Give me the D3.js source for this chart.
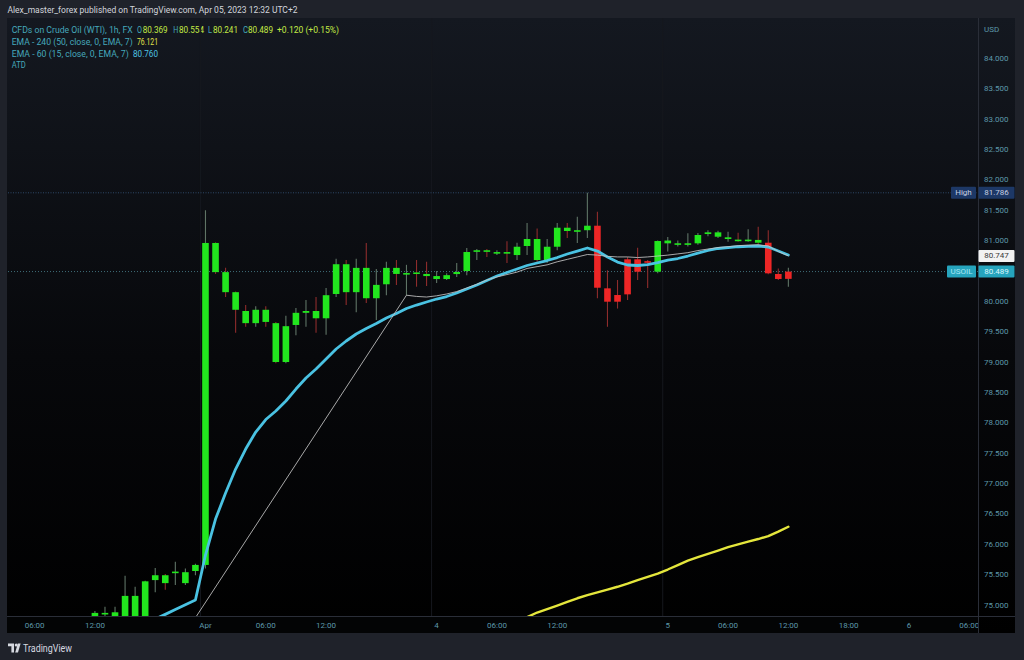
<!DOCTYPE html>
<html><head><meta charset="utf-8">
<script src="https://cdn.jsdelivr.net/npm/d3@7"></script>
<style>html,body{margin:0;padding:0;background:#1f222a;overflow:hidden}svg{display:block}</style>
</head><body><svg id="c" width="1024" height="660"></svg>
<script>
// ---------- DATA ----------
const startIndex = -11; // bar index of the first candle (0 = first bar of Apr 3)
const opens  = [74.70,74.86,74.75,74.78,74.80,74.80,75.41,75.49,75.54,75.36,75.56,
  75.66,80.96,80.48,80.15,79.84,79.64,79.86,79.64,79.00,79.61,79.81,79.84,79.72,80.12,80.61,80.15,80.55,80.05,80.28,80.55,80.45,80.475,80.45,
  80.366,80.366,80.448,80.498,80.83,80.84,80.80,80.81,80.761,80.91,81.025,80.679,80.898,81.211,81.145,81.17,
  81.244,80.213,80.103,80.691,80.691,80.66,
  80.487,80.954,80.95,80.95,80.954,81.107,81.063,81.025,81.015,81.005,81.01,
  80.964,80.449,80.369];
const highs  = [74.90,74.97,74.97,75.48,75.30,75.40,75.61,75.51,75.71,75.60,75.68,
  81.50,80.97,80.55,80.16,79.94,79.92,79.92,79.66,79.76,79.89,80.02,80.07,80.22,80.70,80.68,80.70,80.96,80.53,80.65,80.68,80.60,80.68,80.65,
  80.50,80.46,80.63,80.876,80.86,80.86,80.84,80.99,80.964,81.29,81.20,81.025,81.29,81.29,81.39,81.786,
  81.475,80.51,80.35,80.73,80.88,80.68,
  81.00,81.06,81.00,81.12,81.124,81.17,81.16,81.145,81.13,81.185,81.227,
  81.17,80.54,80.554];
const lows   = [74.60,74.70,74.70,74.70,74.75,74.75,75.21,75.25,75.33,75.33,75.49,
  75.60,80.45,80.07,79.48,79.58,79.58,79.58,78.98,78.98,79.44,79.58,79.48,79.45,80.07,79.94,79.82,79.97,79.69,80.10,80.27,80.10,80.24,80.25,
  80.30,80.35,80.40,80.43,80.68,80.73,80.76,80.63,80.68,80.76,80.65,80.63,80.84,81.04,80.96,81.04,
  80.05,79.58,79.88,80.02,80.35,80.22,
  80.46,80.82,80.90,80.90,80.93,81.07,81.04,80.98,80.98,80.98,80.93,
  80.445,80.35,80.241];
const closes = [74.87,74.87,74.88,75.15,75.15,75.39,75.49,75.36,75.55,75.54,75.66,
  80.96,80.48,80.15,79.86,79.64,79.86,79.66,79.00,79.59,79.81,79.84,79.72,80.10,80.61,80.15,80.55,80.05,80.27,80.55,80.45,80.465,80.465,80.415,
  80.415,80.43,80.482,80.811,80.84,80.83,80.81,80.80,80.898,81.025,80.679,80.898,81.211,81.157,81.17,81.244,
  80.223,79.993,79.993,80.114,80.487,80.645,
  80.992,81.00,80.955,80.955,81.091,81.135,81.135,81.053,81.005,81.015,80.964,
  80.46,80.367,80.489];
// bar colouring from the ATD trend indicator: 1 = green, -1 = red
const trend  = [1,1,1,1,1,1,1,1,1,1,1,
  1,1,1,1,1,1,1,1,1,1,1,1,1,1,1,1,1,1,1,1,1,1,1,
  1,1,1,1,1,1,1,1,1,1,1,1,1,1,1,1,
  -1,-1,-1,-1,-1,-1,
  1,1,1,1,1,1,1,1,1,1,1,
  -1,-1,-1];

const ema60Start = -5;
const ema60 = [74.77,74.846,74.925,75.004,75.082,
  75.822,76.415,76.843,77.238,77.567,77.847,78.053,78.193,78.358,78.555,78.736,78.885,79.049,79.214,79.346,79.461,79.551,79.634,79.724,79.798,79.881,79.938,79.988,
  80.037,80.078,80.136,80.202,80.268,80.342,80.416,80.474,80.531,80.589,80.630,80.671,80.720,80.778,80.827,80.877,
  80.827,80.728,80.646,80.597,80.589,80.605,
  80.638,80.679,80.704,80.745,80.794,80.836,80.869,80.885,80.898,80.905,80.910,
  80.893,80.827,80.762];

const ema240Start = 32;
const ema240 = [74.80,74.876,74.933,74.991,75.052,75.111,75.164,75.208,75.254,75.300,75.353,75.411,75.463,
  75.518,75.584,75.658,75.732,75.789,75.842,75.896,75.954,75.998,76.044,76.086,76.135,76.209,76.288];

const atdIdx = [-1,20,21,22,23,24,25,26,27,28,29,30,31,32,33,34,35,36,37,38,39,40,41,42,43,44,45,46,47,48,49,50,51,52,53,54,55,56,57,58];
const atdVal = [74.79,80.10,80.08,80.07,80.09,80.12,80.16,80.22,80.28,80.35,80.40,80.44,80.48,80.54,80.57,80.60,80.65,80.69,80.73,80.77,
  80.76,80.74,80.73,80.73,80.72,80.73,80.745,80.76,80.78,80.80,80.835,80.86,80.885,80.90,80.915,80.925,80.93,80.91,80.82,80.747];

const yTicks = [75,75.5,76,76.5,77,77.5,78,78.5,79,79.5,80,80.5,81,81.5,82,82.5,83,83.5,84];
const xTickIdx = [-17,-11,0,6,12,23,29,35,46,52,58,64,70,76];
const xTickLabels = ["06:00","12:00","Apr","06:00","12:00","4","06:00","12:00","5","06:00","12:00","18:00","6","06:00"];
const daySepIdx = [-0.5,22.5,45.5];

const highValue = 81.786, lastClose = 80.489, atdLast = 80.747;
const headerTitle = "Alex_master_forex published on TradingView.com, Apr 05, 2023 12:32 UTC+2";

// ---------- DRAW ----------
const svg = d3.select('#c');
const P = {l:8, r:978, t:18, b:616};
const x = d3.scaleLinear().domain([-19.65, 76.87]).range([P.l, P.r]);
const y = d3.scaleLinear().domain([75, 84]).range([605, 58.3]);
const FONT = "Roboto, 'Open Sans', sans-serif";

const defs = svg.append('defs');
const grad = defs.append('linearGradient').attr('id','bg').attr('x1',0).attr('y1',0).attr('x2',0).attr('y2',1);
grad.append('stop').attr('offset',0).attr('stop-color','#141820');
grad.append('stop').attr('offset',0.55).attr('stop-color','#07080b');
grad.append('stop').attr('offset',1).attr('stop-color','#000000');
defs.append('clipPath').attr('id','plotClip').append('rect')
  .attr('x',P.l).attr('y',P.t).attr('width',P.r-P.l).attr('height',P.b-P.t);
defs.append('clipPath').attr('id','xClip').append('rect')
  .attr('x',P.l).attr('y',P.b).attr('width',P.r-P.l).attr('height',20);

svg.append('rect').attr('width',1024).attr('height',660).attr('fill','#1f222a');
svg.append('rect').attr('x',7).attr('y',P.t).attr('width',1008).attr('height',633-P.t).attr('fill','url(#bg)');
svg.append('rect').attr('x',7).attr('y',P.b).attr('width',971).attr('height',17).attr('fill','#030405');

// header line 1
svg.append('text').attr('x',7.5).attr('y',10).attr('dominant-baseline','central')
  .attr('font-family',FONT).attr('font-size',8.4).attr('fill','#d3d6dd')
  .attr('textLength',290).attr('lengthAdjust','spacingAndGlyphs').text(headerTitle);

const teal = '#45a8bb', lime = '#c3ea45';
const legend = [
  [[11.7,"CFDs on Crude Oil (WTI), 1h, FX",teal,121],[137,"O",teal,5],[142.7,"80.369",lime,25],[173.3,"H",teal,5],[179,"80.554",lime,25],
   [208,"L",teal,4],[213,"80.241",lime,25],[243,"C",teal,5],[248,"80.489",lime,25],[277,"+0.120 (+0.15%)",lime,62]],
  [[11.7,"EMA - 240 (50, close, 0, EMA, 7)",teal,121],[137,"76.121",'#e2e24a',21]],
  [[11.7,"EMA - 60 (15, close, 0, EMA, 7)",teal,117],[133,"80.760",'#4ec3e3',25]],
  [[11.7,"ATD",teal,14]]
];
const legY = [30,42,53.5,65];
legend.forEach((row,ri)=>{
  row.forEach(p=>{
    const t = svg.append('text').attr('x',p[0]).attr('y',legY[ri]).attr('dominant-baseline','central')
      .attr('font-family',FONT).attr('font-size',8.2).attr('fill',p[2]).text(p[1]);
    if(p[3]) t.attr('textLength',p[3]).attr('lengthAdjust','spacingAndGlyphs');
  });
});

const plot = svg.append('g').attr('clip-path','url(#plotClip)');
// day separators
plot.selectAll('line.sep').data(daySepIdx).enter().append('line')
  .attr('x1',d=>x(d)).attr('x2',d=>x(d)).attr('y1',P.t).attr('y2',P.b)
  .attr('stroke','#15181e').attr('stroke-width',1);

// high line & price line
plot.append('line').attr('x1',P.l).attr('x2',P.r).attr('y1',y(highValue)).attr('y2',y(highValue))
  .attr('stroke','#2d4766').attr('stroke-width',1).attr('stroke-dasharray','1,1.5');
plot.append('line').attr('x1',P.l).attr('x2',P.r).attr('y1',y(lastClose)).attr('y2',y(lastClose))
  .attr('stroke','#3f6d78').attr('stroke-width',1).attr('stroke-dasharray','1,2');

// candles
const bars = opens.map((o,k)=>({i:startIndex+k,o,h:highs[k],l:lows[k],c:closes[k],t:trend[k]}));
const bw = 6.6;
plot.selectAll('line.wick').data(bars).enter().append('line')
  .attr('x1',d=>x(d.i)).attr('x2',d=>x(d.i)).attr('y1',d=>y(d.h)).attr('y2',d=>y(d.l))
  .attr('stroke',d=>d.c>=d.o ? '#5f7466' : '#8e2c2c').attr('stroke-width',1.1);
plot.selectAll('rect.body').data(bars).enter().append('rect')
  .attr('x',d=>x(d.i)-bw/2).attr('width',bw)
  .attr('y',d=>y(Math.max(d.o,d.c)))
  .attr('height',d=>Math.max(1.6, Math.abs(y(d.o)-y(d.c))))
  .attr('fill',d=>d.t>0 ? '#22e61e' : '#ee2626');

// indicator lines
const line = d3.line().x(d=>x(d.i)).y(d=>y(d.v));
const e240 = ema240.map((v,k)=>({i:ema240Start+k,v}));
const e60 = ema60.map((v,k)=>({i:ema60Start+k,v}));
const atd = atdIdx.map((i,k)=>({i,v:atdVal[k]}));
plot.append('path').attr('d',line(e240)).attr('fill','none').attr('stroke','#e4e63c').attr('stroke-width',2.4).attr('stroke-linejoin','round').attr('stroke-linecap','round');
plot.append('path').attr('d',line(e60)).attr('fill','none').attr('stroke','#4ac2e2').attr('stroke-width',2.8).attr('stroke-linejoin','round').attr('stroke-linecap','round');
plot.append('path').attr('d',line(atd)).attr('fill','none').attr('stroke','#c4c4c4').attr('stroke-width',1).attr('stroke-opacity',0.85);

// separators
svg.append('line').attr('x1',P.r+0.5).attr('x2',P.r+0.5).attr('y1',P.t).attr('y2',633).attr('stroke','#2a2e38');
svg.append('line').attr('x1',7).attr('x2',1015).attr('y1',P.b+0.5).attr('y2',P.b+0.5).attr('stroke','#2a2e38');

// y axis labels
const axisCol = '#5d98aa';
svg.append('text').attr('x',984).attr('y',29).attr('dominant-baseline','central')
  .attr('font-family',FONT).attr('font-size',8).attr('fill',axisCol).text('USD');
svg.selectAll('text.yt').data(yTicks).enter().append('text')
  .attr('x',984).attr('y',d=>y(d)).attr('dominant-baseline','central')
  .attr('font-family',FONT).attr('font-size',8).attr('fill',axisCol).text(d=>d3.format('.3f')(d));

// price labels
function tag(x0,w,v,fill,txt,col){
  const yy = y(v);
  svg.append('rect').attr('x',x0).attr('y',yy-6).attr('width',w).attr('height',12).attr('fill',fill).attr('rx',1);
  svg.append('text').attr('x',x0+w/2).attr('y',yy).attr('text-anchor','middle').attr('dominant-baseline','central')
    .attr('font-family',FONT).attr('font-size',8).attr('fill',col).text(txt);
}
tag(951,25,highValue,'#1d3866','High','#c5cfe2');
tag(978.5,36,highValue,'#1d3866',d3.format('.3f')(highValue),'#c5cfe2');
tag(978.5,36,atdLast,'#f2f2f2',d3.format('.3f')(atdLast),'#3a3a3a');
tag(947,29,lastClose,'#26a4bd','USOIL','#a8e6f2');
tag(978.5,36,lastClose,'#26a4bd',d3.format('.3f')(lastClose),'#d9f6fb');

// x axis labels
svg.append('g').attr('clip-path','url(#xClip)').selectAll('text').data(xTickIdx).enter().append('text')
  .attr('x',d=>x(d)).attr('y',625.5).attr('text-anchor','middle').attr('dominant-baseline','central')
  .attr('font-family',FONT).attr('font-size',8).attr('fill',axisCol).text((d,k)=>xTickLabels[k]);

// TradingView logo
const logo = svg.append('g').attr('fill','#d6d9e0');
logo.append('path').attr('d','M8,643.5 h6 v9 h-2.6 v-6.2 h-3.4 z');
logo.append('circle').attr('cx',16.2).attr('cy',645).attr('r',1.5);
logo.append('path').attr('d','M17.8,643.5 h2.8 l-2.6,9 h-2.8 z');
svg.append('text').attr('x',23).attr('y',648.5).attr('dominant-baseline','central')
  .attr('font-family',FONT).attr('font-size',10).attr('fill','#d6d9e0').attr('textLength',49).attr('lengthAdjust','spacingAndGlyphs').text('TradingView');
</script></body></html>
